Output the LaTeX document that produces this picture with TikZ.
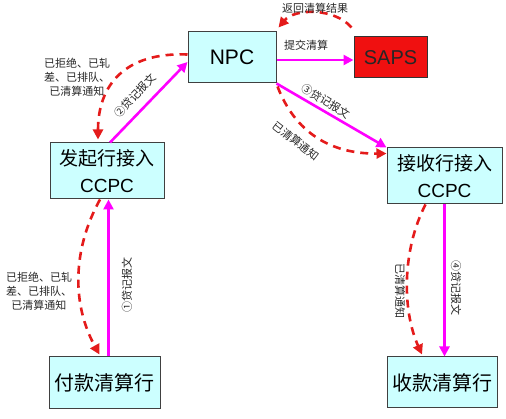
\documentclass[tikz,border=0pt]{standalone}
\usepackage{fontspec}
\setmainfont{Liberation Sans}
\newfontfamily\cjk{Noto Sans CJK SC}
\usetikzlibrary{arrows.meta}
\definecolor{boxfill}{HTML}{CCFFFF}
\definecolor{boxline}{HTML}{404040}
\definecolor{mag}{HTML}{FF00FF}
\definecolor{dred}{HTML}{E41B1B}
\definecolor{sapsred}{HTML}{F01010}
\tikzset{
  box/.style={draw=boxline,line width=1pt,fill=boxfill,inner sep=0pt,align=center,font=\fontsize{19}{27}\selectfont},
  msg/.style={draw=mag,line width=2.6pt,-{Triangle[length=10pt,width=10pt]}},
  note/.style={draw=dred,line width=2.6pt,dash pattern=on 8pt off 6pt,-{Triangle[length=10pt,width=10pt]}},
  lbl/.style={font=\cjk\fontsize{11}{14}\selectfont,align=center,inner sep=0pt,text=black!85}
}
\begin{document}
\begin{tikzpicture}[x=1pt,y=-1pt]
\useasboundingbox (0,0) rectangle (506,419);
% boxes
\node[box,minimum width=88pt,minimum height=51pt,font=\fontsize{21}{27}\selectfont] (npc) at (232,57.5) {NPC};
\node[box,fill=sapsred,draw=black!80,minimum width=73pt,minimum height=41pt,font=\fontsize{20}{27}\selectfont,text=black!85] (saps) at (390.5,57.5) {SAPS};
\node[box,minimum width=114pt,minimum height=56pt] (src) at (107,171) {{\cjk 发起行接入}\\CCPC};
\node[box,minimum width=115pt,minimum height=56pt] (dst) at (444.5,176) {{\cjk 接收行接入}\\CCPC};
\node[box,minimum width=111pt,minimum height=52pt,font=\cjk\fontsize{20}{24}\selectfont] (payer) at (104.5,383) {付款清算行};
\node[box,minimum width=110pt,minimum height=51pt,font=\cjk\fontsize{20}{24}\selectfont] (payee) at (442,382.5) {收款清算行};
% magenta message arrows
\draw[msg] ([xshift=4pt]payer.north) -- ([xshift=4pt]payer.north |- src.south);
\draw[msg] ([xshift=3pt]src.north) -- ([yshift=-4.5pt]npc.west);
\draw[msg] ([yshift=-2.5pt]npc.east) -- ([yshift=-2.5pt]saps.west);
\draw[msg] (npc.south east) -- (dst.north west);
\draw[msg] (dst.south) -- (dst.south |- payee.north);
% red dashed notices
\draw[note] ([yshift=3pt]npc.west) .. controls (125,52) and (98,85) .. ([xshift=-9pt,yshift=3pt]src.north);
\draw[note] ([xshift=-2pt,yshift=9pt]saps.north west) .. controls (335,8) and (295,8) .. ([xshift=2pt,yshift=4pt]npc.north east);
\draw[note] ([xshift=1pt,yshift=-3pt]npc.south east) .. controls (295,132) and (330,154) .. ([yshift=-6pt]dst.north west);
\draw[note] ([xshift=-7pt]src.south) .. controls (72,250) and (72,305) .. ([xshift=-5pt,yshift=2pt]payer.north);
\draw[note] ([xshift=-19pt]dst.south) .. controls (402,250) and (402,310) .. ([xshift=-20pt,yshift=2pt]payee.north);
% labels
\node[lbl] (l1) at (77,77) {已拒绝、已轧\\差、已排队、\\已清算通知};
\node[lbl] (l2) at (39,291) {已拒绝、已轧\\差、已排队、\\已清算通知};
\node[lbl] (l3) at (315,8) {返回清算结果};
\node[lbl] (l4) at (306,45) {提交清算};
\node[lbl,rotate=47] (l5) at (135,96) {②贷记报文};
\node[lbl,rotate=-31] (l6) at (326,101) {③贷记报文};
\node[lbl,rotate=-38] (l7) at (296,141) {已清算通知};
\node[lbl,rotate=90] (l8) at (127,285) {①贷记报文};
\node[lbl,rotate=-90] (l9) at (456,288) {④贷记报文};
\node[lbl,rotate=-90] (l10) at (400,291) {已清算通知};
\end{tikzpicture}
\end{document}
